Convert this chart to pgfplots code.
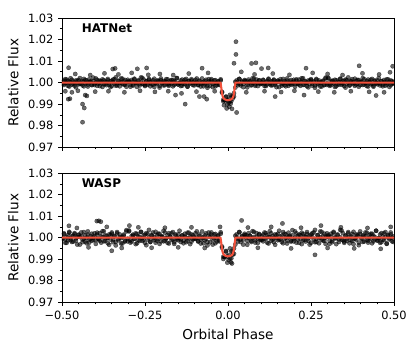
\documentclass[border=0pt]{standalone}
\usepackage{fontspec}
\setmainfont{DejaVu Sans}
\usepackage{pgfplots}
\usepackage{pgfplotstable}
\pgfplotsset{compat=1.18}

\definecolor{modelred}{RGB}{242,80,58}

% HATNet phased light curve: phase, two flux samples per phase bin
\pgfplotstableread{
ph f1 f2
-0.498 1.0004 0.9993
-0.494 0.9989 1.0009
-0.490 1.0016 0.9997
-0.486 0.9998 1.0014
-0.482 1.0008 0.9985
-0.478 0.9982 1.0002
-0.474 1.0001 1.0020
-0.470 1.0013 0.9990
-0.466 0.9994 1.0005
-0.462 0.9986 0.9999
-0.458 1.0010 0.9978
-0.454 0.9999 1.0008
-0.450 0.9992 1.0012
-0.446 1.0021 0.9994
-0.442 0.9995 1.0003
-0.438 1.0006 0.9987
-0.434 0.9983 1.0017
-0.430 1.0012 0.9996
-0.426 1.0000 1.0010
-0.422 0.9991 0.9982
-0.418 1.0015 1.0001
-0.414 1.0003 1.0006
-0.410 0.9988 0.9991
-0.406 1.0007 1.0023
-0.402 0.9996 0.9989
-0.398 1.0019 1.0000
-0.394 0.9985 1.0013
-0.390 1.0005 0.9995
-0.386 1.0009 0.9984
-0.382 0.9997 1.0007
-0.378 0.9980 1.0015
-0.374 1.0011 0.9992
-0.370 0.9993 1.0004
-0.366 1.0002 0.9988
-0.362 1.0017 1.0011
-0.358 0.9990 0.9998
-0.354 1.0006 0.9979
-0.350 0.9984 1.0009
-0.346 1.0014 1.0002
-0.342 0.9995 1.0016
-0.338 1.0024 0.9986
-0.334 0.9987 0.9997
-0.330 1.0008 1.0007
-0.326 0.9998 0.9983
-0.322 1.0001 1.0019
-0.318 1.0018 0.9994
-0.314 0.9991 1.0005
-0.310 1.0012 0.9990
-0.306 0.9981 1.0000
-0.302 1.0003 1.0013
-0.298 1.0007 1.0003
-0.294 0.9991 0.9981
-0.290 1.0003 1.0012
-0.286 0.9986 0.9991
-0.282 1.0015 1.0018
-0.278 0.9998 1.0001
-0.274 0.9980 0.9998
-0.270 1.0010 1.0008
-0.266 0.9995 0.9987
-0.262 1.0001 1.0024
-0.258 1.0022 0.9995
-0.254 0.9992 1.0014
-0.250 0.9988 0.9984
-0.246 1.0006 1.0006
-0.242 0.9997 0.9990
-0.238 1.0013 1.0017
-0.234 0.9983 1.0002
-0.230 1.0004 0.9993
-0.226 0.9990 1.0011
-0.222 1.0018 0.9980
-0.218 0.9999 0.9997
-0.214 0.9994 1.0009
-0.210 1.0009 1.0005
-0.206 0.9977 0.9985
-0.202 1.0011 1.0019
-0.198 1.0000 0.9996
-0.194 0.9987 1.0007
-0.190 1.0005 0.9988
-0.186 1.0016 1.0003
-0.182 0.9993 1.0015
-0.178 0.9985 0.9991
-0.174 1.0008 1.0000
-0.170 0.9996 1.0012
-0.166 1.0012 0.9983
-0.162 0.9989 1.0006
-0.158 1.0002 0.9995
-0.154 1.0021 1.0021
-0.150 0.9991 0.9992
-0.146 0.9998 0.9999
-0.142 0.9984 1.0010
-0.138 1.0014 0.9986
-0.134 1.0003 0.9994
-0.130 0.9993 1.0013
-0.126 1.0017 1.0001
-0.122 0.9981 0.9982
-0.118 1.0006 1.0008
-0.114 0.9995 0.9998
-0.110 1.0010 1.0016
-0.106 1.0000 0.9989
-0.102 0.9987 1.0004
-0.098 0.9997 1.0013
-0.094 1.0019 1.0000
-0.090 0.9988 0.9990
-0.086 1.0009 1.0005
-0.082 0.9982 0.9994
-0.078 0.9999 1.0019
-0.074 1.0002 0.9983
-0.070 0.9992 1.0007
-0.066 1.0013 0.9997
-0.062 0.9976 0.9986
-0.058 1.0005 1.0016
-0.054 0.9986 1.0002
-0.050 1.0016 1.0009
-0.046 0.9994 0.9979
-0.042 1.0010 0.9998
-0.038 0.9983 1.0011
-0.034 0.9998 0.9988
-0.030 1.0007 1.0004
-0.026 0.9989 0.9992
-0.022 1.0015 1.0010
-0.018 0.9953 0.9957
-0.014 0.9920 0.9913
-0.010 0.9918 0.9918
-0.006 0.9935 0.9933
-0.002 0.9899 0.9918
0.002 0.9922 0.9907
0.006 0.9913 0.9943
0.010 0.9935 0.9914
0.014 0.9926 0.9935
0.018 0.9935 0.9951
0.022 1.0004 0.9977
0.026 1.0000 1.0010
0.030 0.9988 0.9996
0.034 1.0017 1.0017
0.038 0.9994 0.9987
0.042 1.0005 1.0003
0.046 0.9979 0.9994
0.050 1.0008 1.0012
0.054 1.0001 1.0008
0.058 0.9990 0.9978
0.062 1.0014 0.9999
0.066 1.0006 1.0005
0.070 0.9987 0.9990
0.074 0.9999 1.0020
0.078 1.0018 1.0002
0.082 0.9992 0.9985
0.086 1.0002 1.0014
0.090 0.9984 0.9997
0.094 1.0011 1.0009
0.098 0.9996 0.9993
0.102 1.0000 0.9996
0.106 1.0013 1.0011
0.110 0.9995 0.9984
0.114 0.9984 1.0002
0.118 1.0007 0.9992
0.122 1.0015 1.0018
0.126 0.9992 0.9999
0.130 1.0004 0.9987
0.134 0.9988 1.0006
0.138 1.0011 1.0014
0.142 0.9998 0.9990
0.146 0.9979 1.0001
0.150 1.0009 1.0008
0.154 1.0002 0.9979
0.158 1.0016 1.0005
0.162 0.9986 0.9994
0.166 0.9997 1.0017
0.170 1.0007 0.9988
0.174 0.9983 1.0000
0.178 1.0019 1.0009
0.182 0.9994 0.9985
0.186 1.0005 0.9997
0.190 0.9990 1.0012
0.194 1.0000 0.9993
0.198 1.0013 1.0004
0.202 0.9993 0.9981
0.206 1.0009 1.0015
0.210 0.9997 0.9995
0.214 1.0014 0.9991
0.218 0.9985 1.0003
0.222 1.0002 1.0020
0.226 1.0020 0.9989
0.230 0.9990 1.0007
0.234 1.0005 0.9998
0.238 0.9999 0.9983
0.242 0.9978 1.0010
0.246 1.0008 0.9994
0.250 1.0012 1.0016
0.254 0.9994 0.9986
0.258 1.0003 1.0005
0.262 0.9987 0.9976
0.266 1.0017 1.0013
0.270 0.9996 0.9992
0.274 1.0010 1.0002
0.278 0.9982 0.9999
0.282 1.0001 0.9982
0.286 1.0006 1.0009
0.290 0.9991 0.9988
0.294 1.0023 1.0019
0.298 0.9989 0.9997
0.302 1.0019 1.0022
0.306 0.9985 0.9992
0.310 1.0005 0.9988
0.314 1.0009 1.0006
0.318 0.9997 0.9997
0.322 0.9980 1.0013
0.326 1.0011 0.9983
0.330 0.9993 1.0004
0.334 1.0002 0.9990
0.338 1.0017 1.0018
0.342 0.9990 0.9999
0.346 1.0006 0.9994
0.350 0.9984 1.0009
0.354 1.0014 0.9977
0.358 0.9995 1.0011
0.362 1.0024 1.0000
0.366 0.9987 0.9987
0.370 1.0008 1.0005
0.374 0.9998 1.0016
0.378 1.0001 0.9993
0.382 1.0018 0.9985
0.386 0.9991 1.0008
0.390 1.0012 0.9996
0.394 0.9981 1.0012
0.398 1.0003 0.9989
0.402 1.0004 1.0002
0.406 0.9989 1.0021
0.410 1.0016 0.9991
0.414 0.9998 0.9998
0.418 1.0008 0.9984
0.422 0.9982 1.0014
0.426 1.0001 1.0003
0.430 1.0013 0.9993
0.434 0.9994 1.0017
0.438 0.9986 0.9981
0.442 1.0010 1.0006
0.446 0.9999 0.9995
0.450 0.9992 1.0010
0.454 1.0021 1.0000
0.458 0.9995 0.9987
0.462 1.0006 1.0007
0.466 0.9983 0.9991
0.470 1.0012 1.0003
0.474 1.0000 0.9986
0.478 0.9991 1.0015
0.482 1.0015 0.9998
0.486 1.0003 0.9980
0.490 0.9988 1.0010
0.494 1.0007 0.9995
0.498 0.9996 1.0001
}\hatnet

% HATNet scattered points away from the band
\pgfplotstableread{
ph f
-0.481 0.9923
-0.476 0.9925
-0.438 0.9900
-0.433 0.9882
-0.438 0.9816
-0.430 0.9942
-0.425 0.9938
-0.480 1.0069
-0.347 1.0063
-0.340 1.0066
-0.273 1.0064
-0.245 1.0068
-0.078 1.0067
-0.129 0.9900
-0.158 0.9942
-0.086 0.9935
-0.064 0.9923
-0.072 0.9935
0.024 1.0190
0.024 1.0131
0.018 1.0090
0.071 1.0089
0.084 1.0092
0.026 0.9861
0.101 1.0065
0.121 1.0068
0.395 1.0078
0.496 1.0076
0.142 0.9935
0.229 0.9942
0.446 0.9940
0.235 1.0067
-0.490 0.9960
-0.470 0.9955
-0.012 0.9895
-0.004 0.9880
0.004 0.9888
0.008 0.9902
0.012 0.9878
-0.460 1.0040
-0.452 0.9962
-0.415 1.0035
-0.400 0.9958
-0.372 1.0043
-0.360 0.9960
-0.330 1.0038
-0.312 0.9955
-0.290 1.0045
-0.265 0.9962
-0.240 1.0036
-0.220 0.9957
-0.205 1.0040
-0.180 0.9960
-0.165 1.0035
-0.140 0.9950
-0.118 1.0042
-0.095 0.9958
-0.060 1.0045
-0.040 0.9960
0.040 1.0050
0.055 0.9955
0.080 1.0038
0.110 0.9960
0.135 1.0042
0.160 0.9956
0.185 1.0036
0.200 0.9962
0.255 1.0045
0.272 0.9958
0.300 1.0040
0.320 0.9955
0.345 1.0035
0.370 0.9960
0.405 1.0043
0.425 0.9957
0.455 1.0038
0.470 0.9955
0.488 1.0048
}\hatout

% WASP phased light curve
\pgfplotstableread{
ph f1 f2
-0.498 0.9994 1.0000
-0.494 1.0017 1.0020
-0.490 0.9976 0.9992
-0.486 1.0003 0.9976
-0.482 0.9988 1.0011
-0.478 1.0027 1.0023
-0.474 0.9998 0.9988
-0.470 0.9980 1.0006
-0.466 1.0009 0.9982
-0.462 1.0021 1.0017
-0.458 0.9985 0.9997
-0.454 1.0002 0.9968
-0.450 1.0012 1.0014
-0.446 0.9968 1.0003
-0.442 1.0008 1.0024
-0.438 0.9991 0.9979
-0.434 1.0026 0.9995
-0.430 0.9982 1.0011
-0.426 1.0000 0.9974
-0.422 1.0014 1.0029
-0.418 0.9977 0.9991
-0.414 0.9995 1.0008
-0.410 1.0018 0.9985
-0.406 0.9989 1.0000
-0.402 1.0006 1.0020
-0.398 0.9971 0.9989
-0.394 1.0023 1.0014
-0.390 0.9992 0.9995
-0.386 0.9986 1.0021
-0.382 1.0005 0.9977
-0.378 1.0030 1.0003
-0.374 0.9983 1.0030
-0.370 1.0011 0.9985
-0.366 0.9997 1.0008
-0.362 0.9974 0.9998
-0.358 1.0015 0.9967
-0.354 0.9991 1.0012
-0.350 1.0024 1.0018
-0.346 0.9979 0.9991
-0.342 1.0008 1.0005
-0.338 0.9964 0.9980
-0.334 1.0020 1.0026
-0.330 0.9988 0.9994
-0.326 1.0003 1.0015
-0.322 0.9998 0.9973
-0.318 0.9973 1.0002
-0.314 1.0014 1.0009
-0.310 0.9982 0.9986
-0.306 1.0029 1.0035
-0.302 0.9995 0.9983
-0.298 1.0033 1.0029
-0.294 0.9988 0.9977
-0.290 0.9982 1.0008
-0.286 1.0009 1.0014
-0.282 0.9995 0.9995
-0.278 1.0020 0.9970
-0.274 0.9974 1.0017
-0.270 1.0006 0.9989
-0.266 0.9985 1.0003
-0.262 1.0027 1.0026
-0.258 0.9998 0.9985
-0.254 0.9991 1.0009
-0.250 1.0014 0.9976
-0.246 0.9965 1.0021
-0.242 1.0017 0.9992
-0.238 1.0000 1.0036
-0.234 0.9980 0.9980
-0.230 1.0008 1.0012
-0.226 1.0024 0.9997
-0.222 0.9989 1.0002
-0.218 0.9977 1.0027
-0.214 1.0012 0.9986
-0.210 0.9994 1.0018
-0.206 1.0018 0.9971
-0.202 0.9983 1.0005
-0.198 1.0003 1.0006
-0.194 1.0032 0.9983
-0.190 0.9986 1.0024
-0.186 0.9997 0.9997
-0.182 0.9976 1.0012
-0.178 1.0021 0.9973
-0.174 1.0005 1.0002
-0.170 0.9989 1.0020
-0.166 1.0026 0.9991
-0.162 0.9971 0.9979
-0.158 1.0009 1.0015
-0.154 0.9992 0.9998
-0.150 1.0015 0.9988
-0.146 1.0000 1.0032
-0.142 0.9980 0.9992
-0.138 1.0011 1.0009
-0.134 0.9986 0.9974
-0.130 1.0005 1.0018
-0.126 0.9979 1.0000
-0.122 1.0023 0.9986
-0.118 0.9997 1.0023
-0.114 0.9970 1.0005
-0.110 1.0015 0.9982
-0.106 0.9992 1.0011
-0.102 1.0002 0.9994
-0.098 1.0020 0.9995
-0.094 1.0000 1.0029
-0.090 0.9985 0.9982
-0.086 1.0008 1.0014
-0.082 0.9991 0.9973
-0.078 1.0029 0.9998
-0.074 0.9974 1.0003
-0.070 1.0011 0.9988
-0.066 0.9995 1.0020
-0.062 0.9979 0.9964
-0.058 1.0024 1.0008
-0.054 1.0003 0.9979
-0.050 1.0014 1.0024
-0.046 0.9968 0.9991
-0.042 0.9997 1.0015
-0.038 1.0017 0.9974
-0.034 0.9982 0.9997
-0.030 1.0006 1.0011
-0.026 0.9988 0.9983
-0.022 1.0018 1.0025
-0.018 0.9959 0.9953
-0.014 0.9901 0.9911
-0.010 0.9910 0.9910
-0.006 0.9935 0.9938
-0.002 0.9913 0.9884
0.002 0.9896 0.9919
0.006 0.9950 0.9904
0.010 0.9904 0.9936
0.014 0.9934 0.9920
0.018 0.9950 0.9925
0.022 0.9968 1.0009
0.026 1.0015 1.0000
0.030 0.9994 0.9982
0.034 1.0026 1.0026
0.038 0.9980 0.9991
0.042 1.0005 1.0008
0.046 0.9991 0.9968
0.050 1.0018 1.0012
0.054 1.0012 1.0002
0.058 0.9967 0.9985
0.062 0.9998 1.0021
0.066 1.0008 1.0009
0.070 0.9985 0.9980
0.074 1.0030 0.9998
0.078 1.0003 1.0027
0.082 0.9977 0.9988
0.086 1.0021 1.0003
0.090 0.9995 0.9976
0.094 1.0014 1.0017
0.098 0.9989 0.9994
0.102 0.9989 1.0006
0.106 1.0014 0.9983
0.110 0.9995 1.0024
0.114 1.0021 0.9997
0.118 0.9977 1.0012
0.122 1.0003 0.9973
0.126 1.0030 1.0002
0.130 0.9985 1.0020
0.134 1.0008 0.9991
0.138 0.9998 0.9979
0.142 0.9967 1.0015
0.146 1.0012 0.9998
0.150 1.0018 0.9988
0.154 0.9991 1.0032
0.158 1.0005 0.9992
0.162 0.9980 1.0009
0.166 1.0026 0.9974
0.170 0.9994 1.0018
0.174 1.0015 1.0000
0.178 0.9973 0.9986
0.182 1.0002 1.0023
0.186 1.0009 1.0005
0.190 0.9986 0.9982
0.194 1.0035 1.0011
0.198 0.9983 0.9994
0.202 1.0000 1.0029
0.206 1.0020 0.9977
0.210 0.9992 1.0008
0.214 0.9976 1.0014
0.218 1.0011 0.9995
0.222 1.0023 0.9970
0.226 0.9988 1.0017
0.230 1.0006 0.9989
0.234 0.9982 1.0003
0.238 1.0017 1.0026
0.242 0.9997 0.9985
0.246 0.9968 1.0009
0.250 1.0014 0.9976
0.254 1.0003 1.0021
0.258 1.0024 0.9992
0.262 0.9979 1.0036
0.266 0.9995 0.9980
0.270 1.0011 1.0012
0.274 0.9974 0.9997
0.278 1.0029 1.0002
0.282 0.9991 1.0027
0.286 1.0008 0.9986
0.290 0.9985 1.0018
0.294 1.0000 0.9971
0.298 1.0020 1.0005
0.302 1.0005 1.0011
0.306 0.9971 0.9986
0.310 1.0018 1.0005
0.314 0.9986 0.9979
0.318 1.0027 1.0023
0.322 1.0002 0.9997
0.326 0.9997 0.9970
0.330 1.0012 1.0015
0.334 0.9980 0.9992
0.338 1.0036 1.0002
0.342 0.9992 1.0033
0.346 1.0021 0.9988
0.350 0.9976 0.9982
0.354 1.0009 1.0009
0.358 0.9985 0.9995
0.362 1.0026 1.0020
0.366 1.0003 0.9974
0.370 0.9989 1.0006
0.374 1.0017 0.9985
0.378 0.9970 1.0027
0.382 0.9995 0.9998
0.386 1.0014 0.9991
0.390 1.0008 1.0014
0.394 0.9977 0.9965
0.398 1.0029 1.0017
0.402 0.9994 1.0000
0.406 1.0011 0.9980
0.410 0.9982 1.0008
0.414 1.0005 1.0024
0.418 1.0023 0.9989
0.422 0.9986 0.9977
0.426 1.0000 1.0012
0.430 1.0018 0.9994
0.434 0.9974 1.0018
0.438 1.0009 0.9983
0.442 0.9992 1.0003
0.446 1.0032 1.0032
0.450 0.9988 0.9986
0.454 0.9998 0.9997
0.458 1.0015 0.9976
0.462 0.9979 1.0021
0.466 0.9991 1.0005
0.470 1.0020 0.9989
0.474 1.0002 1.0026
0.478 0.9973 0.9971
0.482 1.0012 1.0009
0.486 0.9997 0.9992
0.490 1.0024 1.0015
0.494 0.9983 1.0000
0.498 1.0006 0.9980
}\wasp

\pgfplotstableread{
ph f
-0.389 1.0078
-0.395 1.0077
-0.383 1.0074
-0.479 1.0055
-0.350 0.9939
-0.297 1.0056
0.041 1.0080
0.164 1.0066
0.262 0.9920
0.280 1.0056
0.009 0.9885
-0.024 1.0050
0.012 0.9880
-0.455 1.0045
-0.420 0.9955
-0.365 1.0050
-0.320 0.9952
-0.270 1.0048
-0.230 0.9953
-0.190 1.0046
-0.150 0.9955
-0.110 1.0048
-0.070 0.9952
0.060 1.0047
0.090 0.9953
0.130 1.0050
0.190 0.9950
0.220 1.0046
0.300 0.9952
0.340 1.0048
0.380 0.9950
0.420 1.0045
0.460 0.9948
0.490 1.0050
}\waspout

\pgfplotsset{
  lcpanel/.style={
    scale only axis, width=239pt, height=92.9pt,
    xmin=-0.5, xmax=0.5, ymin=0.97, ymax=1.03,
    clip marker paths=true,
    xtick={-0.5,-0.25,0,0.25,0.5}, minor x tick num=4,
    ytick={0.97,0.98,0.99,1.00,1.01,1.02,1.03},
    yticklabels={0.97,0.98,0.99,1.00,1.01,1.02,1.03},
    minor y tick num=1,
    tick align=outside, xtick pos=left, ytick pos=left,
    major tick length=2.6pt, minor tick length=1.5pt,
    every tick/.style={black, line width=0.5pt},
    axis line style={line width=0.5pt},
    tick label style={font=\fontsize{8.2}{9}\selectfont},
    label style={font=\fontsize{9.8}{11}\selectfont},
    ylabel={Relative Flux},
  },
  pts/.style={only marks, mark=*, mark size=1.55pt,
    mark options={draw=black, fill=black, line width=0.2pt,
      fill opacity=0.58, draw opacity=0.65}},
  modelline/.style={modelred, line width=1.5pt, line join=round},
}
\tikzset{tag/.style={anchor=west, font=\fontsize{8.6}{10}\selectfont\bfseries}}

\begin{document}
\begin{tikzpicture}
\begin{axis}[lcpanel, name=top, xticklabels={}]
\addplot[pts] table[x=ph, y=f1] {\hatnet};
\addplot[pts] table[x=ph, y=f2] {\hatnet};
\addplot[pts] table[x=ph, y=f] {\hatout};
\addplot[modelline] coordinates {(-0.5,1.0) (-0.0225,1.0) (-0.021,0.9985) (-0.019,0.9962) (-0.017,0.9942) (-0.015,0.9931) (-0.012,0.9925) (-0.008,0.9921) (-0.004,0.9919) (0,0.9918) (0.004,0.9919) (0.008,0.9921) (0.012,0.9925) (0.015,0.9931) (0.017,0.9942) (0.019,0.9962) (0.021,0.9985) (0.0225,1.0) (0.5,1.0)};
\node[tag] at (rel axis cs:0.045,0.925) {HATNet};
\end{axis}

\begin{axis}[lcpanel, name=bot, at={(top.south west)}, anchor=north west, yshift=-18.7pt,
  xticklabels={−0.50,−0.25,0.00,0.25,0.50}, xlabel={Orbital Phase}]
\addplot[pts] table[x=ph, y=f1] {\wasp};
\addplot[pts] table[x=ph, y=f2] {\wasp};
\addplot[pts] table[x=ph, y=f] {\waspout};
\addplot[modelline] coordinates {(-0.5,1.0) (-0.0225,1.0) (-0.021,0.9984) (-0.019,0.9960) (-0.017,0.9938) (-0.015,0.9927) (-0.012,0.9920) (-0.008,0.9916) (-0.004,0.9914) (0,0.9913) (0.004,0.9914) (0.008,0.9916) (0.012,0.9920) (0.015,0.9927) (0.017,0.9938) (0.019,0.9960) (0.021,0.9984) (0.0225,1.0) (0.5,1.0)};
\node[tag] at (rel axis cs:0.045,0.925) {WASP};
\end{axis}

\path ([xshift=-44.6pt, yshift=13pt]top.north west) rectangle ([xshift=15.1pt, yshift=-38.9pt]bot.south east);
\end{tikzpicture}
\end{document}
